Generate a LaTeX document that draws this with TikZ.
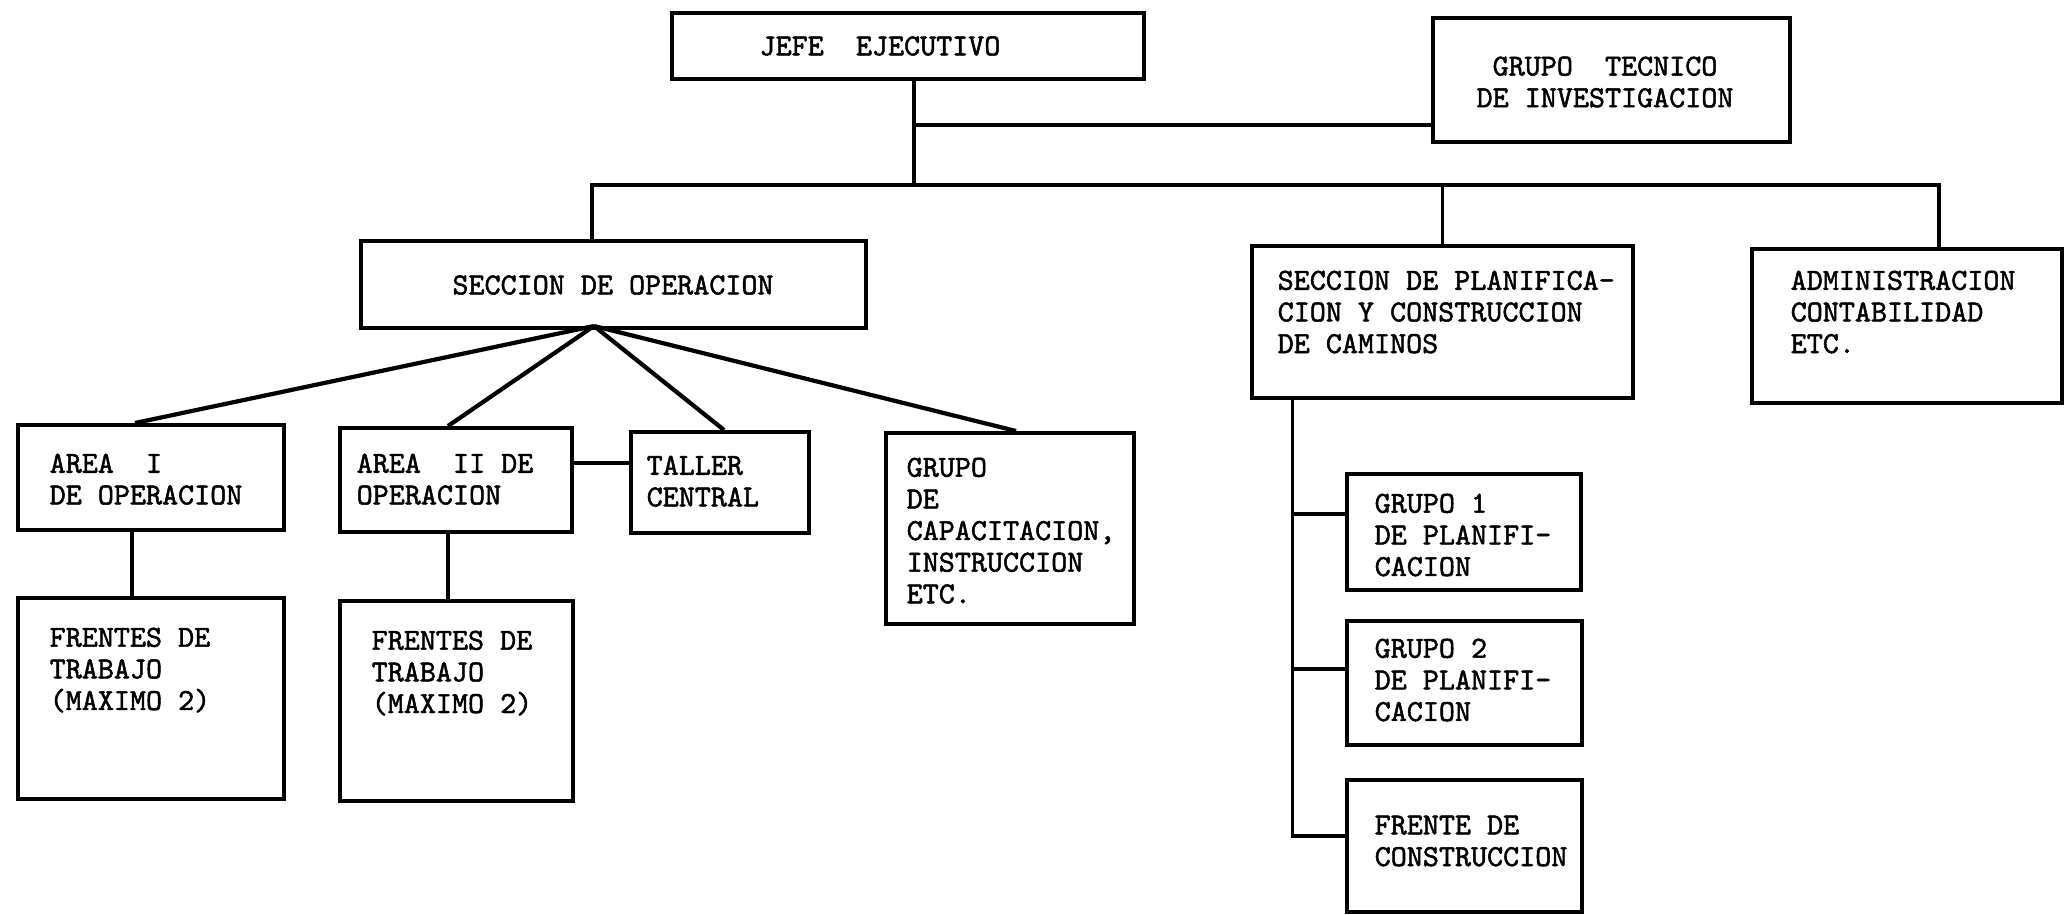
\documentclass[tikz,border=0pt]{standalone}
\usepackage{fontspec}
\newfontfamily\typer{lmmono10-regular.otf}[FakeBold=1.6]
\usepackage{tikz}

\begin{document}
\begin{tikzpicture}[
    box/.style={draw, line width=1.1pt, anchor=north west, inner sep=0pt},
    lbl/.style={anchor=north west, inner sep=0pt, align=left, font=\typer\fontsize{8.7}{9}\selectfont},
    mid/.style={lbl, anchor=center, align=center},
    link/.style={line width=0.9pt},
    fan/.style={line width=1.2pt}]
    \useasboundingbox (0,0) rectangle (20.68,9.14);
    \node[box, minimum width=4.72cm, minimum height=0.66cm] (jefe) at (6.70,9.03) {};
    \node[box, minimum width=3.57cm, minimum height=1.24cm] (tecnico) at (14.31,8.98) {};
    \node[box, minimum width=5.05cm, minimum height=0.87cm] (secop) at (3.59,6.75) {};
    \node[box, minimum width=3.81cm, minimum height=1.52cm] (planif) at (12.50,6.70) {};
    \node[box, minimum width=3.10cm, minimum height=1.54cm] (admin) at (17.50,6.67) {};
    \node[box, minimum width=2.66cm, minimum height=1.05cm] (area1) at (0.16,4.91) {};
    \node[box, minimum width=2.32cm, minimum height=1.04cm] (area2) at (3.38,4.88) {};
    \node[box, minimum width=1.78cm, minimum height=1.01cm] (taller) at (6.29,4.84) {};
    \node[box, minimum width=2.48cm, minimum height=1.91cm] (capac) at (8.84,4.83) {};
    \node[box, minimum width=2.66cm, minimum height=2.01cm] (frentes1) at (0.16,3.18) {};
    \node[box, minimum width=2.33cm, minimum height=2.00cm] (frentes2) at (3.38,3.15) {};
    \node[box, minimum width=2.34cm, minimum height=1.16cm] (grupo1) at (13.45,4.42) {};
    \node[box, minimum width=2.35cm, minimum height=1.24cm] (grupo2) at (13.45,2.95) {};
    \node[box, minimum width=2.35cm, minimum height=1.32cm] (frente) at (13.45,1.36) {};

    \node[mid] (jefe-t) at (8.80,8.68) {JEFE\ \ EJECUTIVO};
    \node[mid] (tecnico-t) at (16.05,8.32) {GRUPO\ \ TECNICO\\DE INVESTIGACION};
    \node[mid] (secop-t) at (6.13,6.29) {SECCION DE OPERACION};
    \node[lbl] (planif-t) at (12.77,6.44) {SECCION DE PLANIFICA-\\CION Y CONSTRUCCION\\DE CAMINOS};
    \node[lbl] (admin-t) at (17.90,6.44) {ADMINISTRACION\\CONTABILIDAD\\ETC.};
    \node[lbl] (area1-t) at (0.49,4.61) {AREA\ \ I\\DE OPERACION};
    \node[lbl] (area2-t) at (3.56,4.61) {AREA\ \ II DE\\OPERACION};
    \node[lbl] (taller-t) at (6.46,4.59) {TALLER\\CENTRAL};
    \node[lbl] (capac-t) at (9.06,4.57) {GRUPO\\DE\\CAPACITACION,\\INSTRUCCION\\ETC.};
    \node[lbl] (frentes1-t) at (0.49,2.87) {FRENTES DE\\TRABAJO\\(MAXIMO 2)};
    \node[lbl] (frentes2-t) at (3.71,2.84) {FRENTES DE\\TRABAJO\\(MAXIMO 2)};
    \node[lbl] (grupo1-t) at (13.74,4.21) {GRUPO 1\\DE PLANIFI-\\CACION};
    \node[lbl] (grupo2-t) at (13.74,2.76) {GRUPO 2\\DE PLANIFI-\\CACION};
    \node[lbl] (frente-t) at (13.74,0.99) {FRENTE DE\\CONSTRUCCION};

    \coordinate (stem) at (9.14,7.29);
    \coordinate (tj) at (9.14,7.89);
    \draw[link] (jefe.south -| stem) -- (stem);
    \draw[link] (tj) -- (tj -| tecnico.west);
    \coordinate (busl) at (5.92,7.29);
    \coordinate (busr) at (19.39,7.29);
    \draw[link] (secop.north -| busl) |- (busr) -- (busr |- admin.north);
    \draw[link] (planif.north) -- (planif.north |- busr);

    \coordinate (apex) at (5.94,5.88);
    \foreach \n/\d in {area1/1.19, area2/1.10, taller/0.95, capac/1.32}
      \draw[fan] (apex) -- ([xshift=\d cm]\n.north west);
    \draw[link] ([xshift=1.16cm]area1.south west) -- ([xshift=1.16cm]frentes1.north west);
    \draw[link] ([xshift=1.10cm]area2.south west) -- ([xshift=1.10cm]frentes2.north west);
    \coordinate (at) at (5.70,4.51);
    \draw[link] (at) -- (at -| taller.west);

    \coordinate (pv) at (12.925,0.78);
    \coordinate (g1) at (12.925,4.00);
    \coordinate (g2) at (12.925,2.45);
    \draw[link] (planif.south -| pv) -- (pv) -- (pv -| frente.west);
    \draw[link] (g1) -- (g1 -| grupo1.west);
    \draw[link] (g2) -- (g2 -| grupo2.west);
  \end{tikzpicture}
\end{document}
